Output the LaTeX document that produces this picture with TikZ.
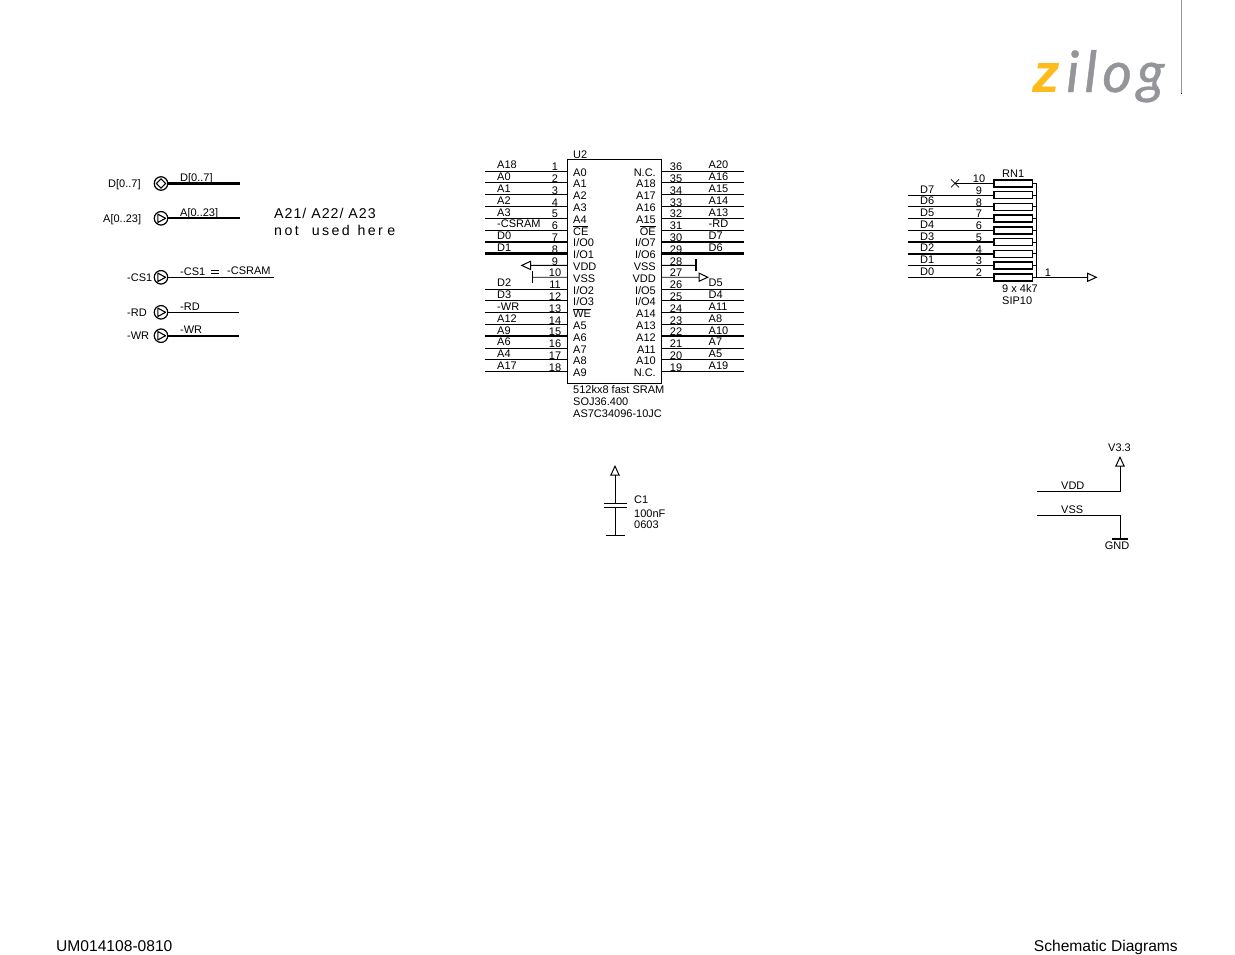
\documentclass[tikz,border=0pt]{standalone}
\usepackage{fontspec}
\setmainfont{Liberation Sans}
\newfontfamily\notefont[LetterSpace=7]{Liberation Sans}
\newfontfamily\notewidefont[LetterSpace=17]{Liberation Sans}
\newfontfamily\logofont[LetterSpace=9,FakeBold=0.8]{Lato}
\usetikzlibrary{arrows.meta}
\definecolor{logogray}{HTML}{939598}
\definecolor{logoyellow}{HTML}{FDBB1E}
\tikzset{
  thinwire/.style={line width=0.9pt},
  thickwire/.style={line width=2.3pt},
  nowire/.style={draw=none},
  opentip/.style={-{Triangle[open,length=10.5pt,width=9.5pt,line width=1pt]},line width=0.9pt},
  lbl/.style={anchor=west,inner sep=0pt,text height=7.9pt,text depth=0pt,font=\fontsize{11}{12}\selectfont},
  num/.style={lbl,anchor=center},
  port/.style={draw,circle,line width=1.2pt,minimum size=13.5pt,inner sep=0pt},
  resbox/.style={draw,line width=1.4pt,minimum width=38.5pt,minimum height=7pt,inner sep=0pt}
}
\begin{document}
\begin{tikzpicture}[x=1pt,y=-1pt]
            \useasboundingbox (0,0) rectangle (1235,954);
            \draw[logogray,line width=0.9pt] (1181,0) -- (1181,93);
            \fill[black] (1180.5,92.8) rectangle (1181.6,94);
            \node[anchor=base west,inner sep=0pt,text=logoyellow,font=\fontsize{55}{55}\bfseries\itshape\selectfont] (logoz) at (1032,92) {z};
            \node[anchor=base west,inner sep=0pt,text=logogray,font=\logofont\fontsize{57}{57}\itshape\selectfont] (logorest) at (1066,92) {ilog};

            \foreach \n/\y/\xend/\wr/\outer/\lab/\lx in {
                A/218.3/240/thickwire/{A[0..23]}/{A[0..23]}/103,
                CS/277.3/274/thinwire/{-CS1}/{-CS1}/127,
                RD/312.3/239/thinwire/{-RD}/{-RD}/127,
                WR/335.7/239/thickwire/{-WR}/{-WR}/127}{
                \node[port] (port\n) at (161,\y) {};
                \draw[line width=1.1pt,line join=round] ([shift={(-3.2,-4.2)}]port\n.center) -- ([shift={(4.6,0)}]port\n.center) -- ([shift={(-3.2,4.2)}]port\n.center) -- cycle;
                \coordinate (end\n) at (\xend,\y);
                \draw[\wr] (port\n.east) -- (end\n);
                \node[lbl] (outer\n) at (\lx,\y) {\outer};
                \node[lbl] (lab\n) at (180,\y-6) {\lab};
            }
            \node[port] (portD) at (161,183.5) {};
            \draw[line width=1.1pt] ([yshift=-4.6pt]portD.center) -- ([xshift=4.6pt]portD.center) -- ([yshift=4.6pt]portD.center) -- ([xshift=-4.6pt]portD.center) -- cycle;
            \coordinate (endD) at (240,183.5);
            \draw[thickwire] (portD.east) -- (endD);
            \node[lbl] (outerD) at (108,183.5) {D[0..7]};
            \node[lbl] (labD) at (180,177.4) {D[0..7]};
            \draw[line width=1.2pt] (211,270.8) -- (219,270.8) (211,273.8) -- (219,273.8);
            \node[lbl] (csram) at (227,270.6) {-CSRAM};

            \node[anchor=west,inner sep=0pt,font=\notefont\fontsize{14.2}{16}\selectfont] (note1) at (274,213.5) {A21/ A22/ A23};
            \node[anchor=west,inner sep=0pt,font=\notewidefont\fontsize{14.2}{16}\selectfont] (note2) at (274,230) {not\hspace{6.7pt} used\hspace{1.3pt} her\hspace{4.6pt}e};

            \node[draw,line width=1pt,minimum width=94pt,minimum height=224pt,inner sep=0pt] (U2) at (614.5,271) {};
            \node[lbl] (u2name) at (573,154.3) {U2};
            \node[lbl] (u2val) at (573,389.3) {512kx8 fast SRAM};
            \node[lbl] (u2pkg) at (573,401.3) {SOJ36.400};
            \node[lbl] (u2part) at (573,413.3) {AS7C34096-10JC};

            \foreach \n/\lab/\inn/\wr [count=\i from 0] in {
                1/A18/A0/thinwire, 2/A0/A1/thinwire, 3/A1/A2/thinwire, 4/A2/A3/thinwire, 5/A3/A4/thinwire,
                6/-CSRAM/{$\overline{\mbox{CE}}$}/thinwire, 7/D0/I\slash O0/thickwire, 8/D1/I\slash O1/thickwire,
                9//VDD/nowire, 10//VSS/nowire, 11/D2/I\slash O2/thinwire, 12/D3/I\slash O3/thinwire,
                13/-WR/{$\overline{\mbox{WE}}$}/thinwire, 14/A12/A5/thinwire, 15/A9/A6/thickwire,
                16/A6/A7/thinwire, 17/A4/A8/thinwire, 18/A17/A9/thinwire}{
                \pgfmathsetmacro\y{171+11.8*\i}
                \coordinate (L\n) at (567.5,\y);
                \coordinate (W\n) at (485,\y);
                \draw[\wr] (L\n) -- (W\n);
                \node[lbl] (wl\n) at (497,\y-6) {\lab};
                \node[num] (nl\n) at (555,\y-4.2) {\n};
                \node[lbl] (il\n) at (573,\y+1.2) {\inn};
            }
            \foreach \n/\lab/\inn/\wr [count=\i from 0] in {
                36/A20/N.C./thinwire, 35/A16/A18/thinwire, 34/A15/A17/thinwire, 33/A14/A16/thinwire, 32/A13/A15/thinwire,
                31/-RD/{$\overline{\mbox{OE}}$}/thinwire, 30/D7/I\slash O7/thickwire, 29/D6/I\slash O6/thickwire,
                28//VSS/nowire, 27//VDD/nowire, 26/D5/I\slash O5/thinwire, 25/D4/I\slash O4/thinwire,
                24/A11/A14/thinwire, 23/A8/A13/thinwire, 22/A10/A12/thickwire,
                21/A7/A11/thinwire, 20/A5/A10/thinwire, 19/A19/N.C./thinwire}{
                \pgfmathsetmacro\y{171+11.8*\i}
                \coordinate (R\n) at (661.5,\y);
                \coordinate (E\n) at (744,\y);
                \draw[\wr] (R\n) -- (E\n);
                \node[lbl] (wr\n) at (708.5,\y-6) {\lab};
                \node[num] (nr\n) at (676,\y-4.2) {\n};
                \node[lbl,anchor=east] (ir\n) at (656,\y+1.2) {\inn};
            }
            \coordinate (tipnine) at (520.5,265.4);
            \draw[opentip] (L9) -- (tipnine);
            \coordinate (endten) at (532,277.2);
            \draw[thinwire] (L10) -- (endten);
            \draw[thinwire] ([yshift=-6pt]endten) -- ([yshift=6pt]endten);
            \coordinate (endvss) at (696,265.4);
            \draw[thinwire] (R28) -- (endvss);
            \draw[line width=1.6pt] ([yshift=-6pt]endvss) -- ([yshift=6pt]endvss);
            \coordinate (tipvdd) at (709,277.2);
            \draw[opentip] (R27) -- (tipvdd);

            \foreach \n/\lab/\wr [count=\i from 0] in {
                10//nowire, 9/D7/thinwire, 8/D6/thinwire, 7/D5/thinwire, 6/D4/thinwire,
                5/D3/thickwire, 4/D2/thickwire, 3/D1/thinwire, 2/D0/thinwire}{
                \pgfmathsetmacro\y{183.3+11.75*\i}
                \node[resbox] (res\n) at (1013.2,\y) {};
                \coordinate (rail\n) at (1036.5,\y);
                \coordinate (pin\n) at (908,\y);
                \draw[thinwire] (res\n.east) -- (rail\n);
                \draw[\wr] (res\n.west) -- (pin\n);
                \node[lbl] (dl\n) at (920,\y-6) {\lab};
                \node[num] (nn\n) at (979,\y-4.6) {\n};
            }
            \draw[thinwire] (rail10) -- (rail2);
            \coordinate (xmark) at (955,183.3);
            \draw[thinwire] (res10.west) -- (xmark);
            \draw[line width=0.7pt] ([shift={(-4,-4)}]xmark) -- ([shift={(4,4)}]xmark) ([shift={(-4,4)}]xmark) -- ([shift={(4,-4)}]xmark);
            \coordinate (tiprn) at (1097.5,277.3);
            \draw[opentip] (rail2) -- (tiprn);
            \node[num] (rnone) at (1048,272.6) {1};
            \node[lbl] (rnname) at (1002,173.3) {RN1};
            \node[lbl] (rnval) at (1002,288.8) {9 x 4k7};
            \node[lbl] (rnpkg) at (1002,300.3) {SIP10};

            \coordinate (ctop) at (615,465);
            \coordinate (cpa) at (615,503.3);
            \coordinate (cpb) at (615,507.8);
            \coordinate (cbot) at (615,535);
            \draw[opentip] (cpa) -- (ctop);
            \draw[thinwire] (cpb) -- (cbot);
            \draw[thinwire] ([xshift=-11.5pt]cpa) -- ([xshift=11.5pt]cpa);
            \draw[thinwire] ([xshift=-11.5pt]cpb) -- ([xshift=11.5pt]cpb);
            \draw[thinwire] ([xshift=-9.5pt]cbot) -- ([xshift=9.5pt]cbot);
            \node[lbl] (c1name) at (634,499.3) {C1};
            \node[lbl] (c1val) at (634,513.3) {100nF};
            \node[lbl] (c1pkg) at (634,524.8) {0603};

            \coordinate (vddl) at (1037,491.7);
            \coordinate (vddc) at (1120,491.7);
            \coordinate (vddt) at (1120,456);
            \draw[thinwire] (vddl) -- (vddc);
            \draw[opentip] (vddc) -- (vddt);
            \node[num] (v33) at (1119.5,447.6) {V3.3};
            \node[lbl] (vddname) at (1061,485.3) {VDD};
            \coordinate (vssl) at (1037,515);
            \coordinate (vssc) at (1120,515);
            \coordinate (vssb) at (1120,539);
            \draw[thinwire] (vssl) -- (vssc) -- (vssb);
            \draw[line width=1.6pt] ([xshift=-8pt]vssb) -- ([xshift=7.5pt]vssb);
            \node[lbl] (vssname) at (1061,509.3) {VSS};
            \node[num] (gnd) at (1117,545.4) {GND};

            \node[anchor=base west,inner sep=0pt,font=\fontsize{15.6}{18}\selectfont] (docid) at (56,951) {UM014108-0810};
            \node[anchor=base east,inner sep=0pt,font=\fontsize{15.6}{18}\selectfont] (doctitle) at (1178,951) {Schematic Diagrams};
\end{tikzpicture}
\end{document}
